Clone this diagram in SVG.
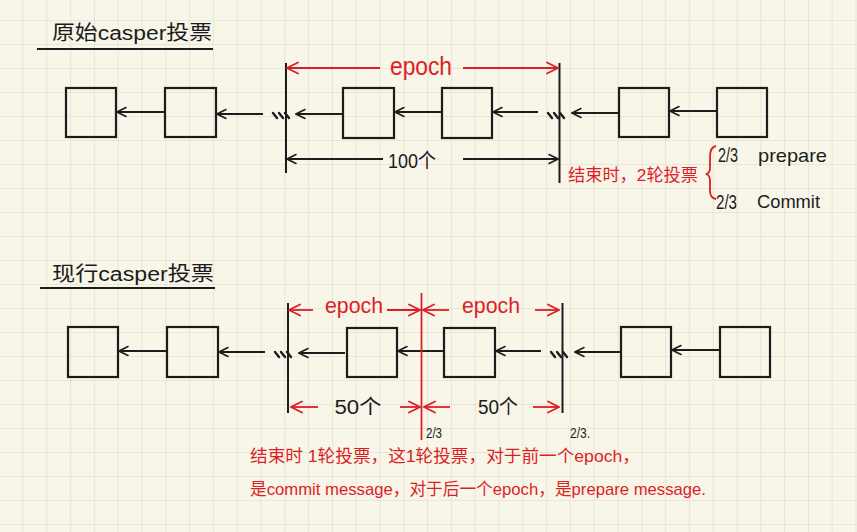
<svg xmlns="http://www.w3.org/2000/svg" width="857" height="532" viewBox="0 0 857 532">
<defs>
<pattern id="grid" x="22.5" y="20" width="23.8" height="24" patternUnits="userSpaceOnUse">
<path d="M0,0 L0,24 M0,0 L23.8,0" fill="none" stroke="#e6e2d2" stroke-width="1.6"/>
</pattern>
<marker id="ah" viewBox="0 0 12 12" refX="11" refY="6" markerWidth="12" markerHeight="12" markerUnits="userSpaceOnUse" orient="auto-start-reverse">
<path d="M2,1.5 L11,6 L2,10.5" fill="none" stroke="#1c1c1c" stroke-width="1.6" stroke-linecap="round"/>
</marker>
<marker id="rh" viewBox="0 0 14 14" refX="13" refY="7" markerWidth="14" markerHeight="14" markerUnits="userSpaceOnUse" orient="auto-start-reverse">
<path d="M2,1.5 L13,7 L2,12.5" fill="none" stroke="#dc1f26" stroke-width="1.8" stroke-linecap="round"/>
</marker>
<g id="dots">
<path d="M0,-3 L4,2 M6,-3 L10,2 M12,-3 L16,2" stroke="#1c1c1c" stroke-width="2.4" stroke-linecap="round" fill="none"/>
</g>
</defs>
<style>
.box{fill:none;stroke:#1c1c1c;stroke-width:2.2}
.ln{stroke:#1c1c1c;stroke-width:2;fill:none}
.conn{stroke:#1c1c1c;stroke-width:2;fill:none;marker-end:url(#ah)}
.dim{stroke:#1c1c1c;stroke-width:1.8;fill:none;marker-end:url(#ah)}
.rdim{stroke:#dc1f26;stroke-width:1.8;fill:none;marker-end:url(#rh)}
.rl{stroke:#dc1f26;stroke-width:1.8;fill:none}
.t{font-family:"Liberation Sans","Noto Sans CJK SC",sans-serif;fill:#1c1c1c}
.r{font-family:"Liberation Sans","Noto Sans CJK SC",sans-serif;fill:#dc1f26}
</style>
<rect width="857" height="532" fill="#f8f5e9"/>
<rect width="857" height="532" fill="url(#grid)"/>

<!-- titles -->
<g id="title1">
<text class="t" x="52" y="40" font-size="20" textLength="160" lengthAdjust="spacingAndGlyphs">原始casper投票</text>
<line class="ln" x1="37" y1="49" x2="213" y2="49"/>
</g>
<g id="title2">
<text class="t" x="52" y="281" font-size="20" textLength="162" lengthAdjust="spacingAndGlyphs">现行casper投票</text>
<line class="ln" x1="40" y1="288" x2="215" y2="288"/>
</g>

<!-- top row nodes -->
<g id="top-b1"><rect class="box" x="66" y="88" width="50" height="49"/></g>
<g id="top-b2"><rect class="box" x="165" y="88" width="51" height="49"/></g>
<g id="top-b3"><rect class="box" x="343" y="88" width="51" height="50"/></g>
<g id="top-b4"><rect class="box" x="442" y="88" width="50" height="50"/></g>
<g id="top-b5"><rect class="box" x="619" y="88" width="50" height="49"/></g>
<g id="top-b6"><rect class="box" x="717" y="88" width="50" height="49"/></g>

<!-- bottom row nodes -->
<g id="bot-b1"><rect class="box" x="68" y="327" width="50" height="50"/></g>
<g id="bot-b2"><rect class="box" x="167" y="327" width="51" height="50"/></g>
<g id="bot-b3"><rect class="box" x="347" y="328" width="50" height="49"/></g>
<g id="bot-b4"><rect class="box" x="444" y="328" width="51" height="49"/></g>
<g id="bot-b5"><rect class="box" x="621" y="327" width="50" height="50"/></g>
<g id="bot-b6"><rect class="box" x="720" y="327" width="50" height="50"/></g>

<!-- connectors -->
<g id="connectors">
<line class="conn" x1="165" y1="112" x2="117" y2="112"/>
<line class="conn" x1="263" y1="114" x2="217" y2="114"/>
<line class="conn" x1="343" y1="114" x2="296" y2="114"/>
<line class="conn" x1="442" y1="112" x2="395" y2="112"/>
<line class="conn" x1="538" y1="112" x2="493" y2="112"/>
<line class="conn" x1="619" y1="113" x2="572" y2="113"/>
<line class="conn" x1="717" y1="111" x2="670" y2="111"/>
<line class="conn" x1="167" y1="351" x2="119" y2="351"/>
<line class="conn" x1="265" y1="352" x2="219" y2="352"/>
<line class="conn" x1="345" y1="353" x2="299" y2="353"/>
<line class="conn" x1="443" y1="351" x2="398" y2="351"/>
<line class="conn" x1="541" y1="351" x2="496" y2="351"/>
<line class="conn" x1="621" y1="352" x2="575" y2="352"/>
<line class="conn" x1="720" y1="350" x2="672" y2="350"/>
</g>

<!-- top row epoch markers -->
<g id="top-epoch">
<line class="ln" x1="286" y1="63" x2="286" y2="173"/>
<line class="ln" x1="559.5" y1="63" x2="559.5" y2="183"/>
<use href="#dots" x="273" y="116"/>
<use href="#dots" x="548" y="116"/>
<line class="rdim" x1="380" y1="68" x2="287" y2="68"/>
<line class="rdim" x1="463" y1="68" x2="558" y2="68"/>
<text class="r" x="421" y="75" font-size="26" text-anchor="middle" textLength="62" lengthAdjust="spacingAndGlyphs">epoch</text>
<line class="dim" x1="383" y1="159" x2="287" y2="159"/>
<line class="dim" x1="463" y1="159" x2="558" y2="159"/>
<text class="t" x="412" y="168" font-size="20" text-anchor="middle" textLength="48" lengthAdjust="spacingAndGlyphs">100个</text>
</g>

<g id="top-vote">
<text class="r" x="568" y="181" font-size="17" textLength="130" lengthAdjust="spacingAndGlyphs">结束时，2轮投票</text>
<path class="rl" d="M716,146 Q710,147 710,157 L710,168 Q710,173 706,174 Q710,175 710,181 L710,191 Q710,198 716,199"/>
<text class="t" x="718" y="162" font-size="20" textLength="20" lengthAdjust="spacingAndGlyphs">2/3</text>
<text class="t" x="758" y="162" font-size="19" textLength="69" lengthAdjust="spacingAndGlyphs">prepare</text>
<text class="t" x="716" y="209" font-size="20" textLength="21" lengthAdjust="spacingAndGlyphs">2/3</text>
<text class="t" x="757" y="208" font-size="19" textLength="63" lengthAdjust="spacingAndGlyphs">Commit</text>
</g>

<!-- bottom row epoch markers -->
<g id="bot-epoch">
<line class="ln" x1="288" y1="303" x2="288" y2="413"/>
<line class="ln" x1="562.5" y1="303" x2="562.5" y2="413"/>
<line class="rl" x1="421.5" y1="293" x2="421.5" y2="440"/>
<use href="#dots" x="275" y="355"/>
<use href="#dots" x="551" y="355"/>
<line class="rdim" x1="313" y1="310" x2="289" y2="310"/>
<text class="r" x="354" y="313" font-size="22" text-anchor="middle" textLength="58" lengthAdjust="spacingAndGlyphs">epoch</text>
<line class="rdim" x1="387" y1="310" x2="420" y2="310"/>
<line class="rdim" x1="449" y1="310" x2="423" y2="310"/>
<text class="r" x="491" y="313" font-size="22" text-anchor="middle" textLength="58" lengthAdjust="spacingAndGlyphs">epoch</text>
<line class="rdim" x1="535" y1="310" x2="559" y2="310"/>
<line class="rdim" x1="318" y1="407" x2="291" y2="407"/>
<text class="t" x="358" y="414" font-size="20" text-anchor="middle" textLength="47" lengthAdjust="spacingAndGlyphs">50个</text>
<line class="rdim" x1="400" y1="407" x2="420" y2="407"/>
<line class="rdim" x1="450" y1="407" x2="424" y2="407"/>
<text class="t" x="498" y="414" font-size="20" text-anchor="middle" textLength="40" lengthAdjust="spacingAndGlyphs">50个</text>
<line class="rdim" x1="533" y1="407" x2="559" y2="407"/>
<text class="t" x="426" y="438" font-size="14" textLength="16" lengthAdjust="spacingAndGlyphs">2/3</text>
<text class="t" x="570" y="438" font-size="15" textLength="20" lengthAdjust="spacingAndGlyphs">2/3.</text>
</g>

<g id="bot-vote">
<text class="r" x="250" y="462" font-size="17" textLength="390" lengthAdjust="spacingAndGlyphs">结束时 1轮投票，这1轮投票，对于前一个epoch，</text>
<text class="r" x="250" y="495" font-size="17" textLength="456" lengthAdjust="spacingAndGlyphs">是commit message，对于后一个epoch，是prepare message.</text>
</g>
</svg>
